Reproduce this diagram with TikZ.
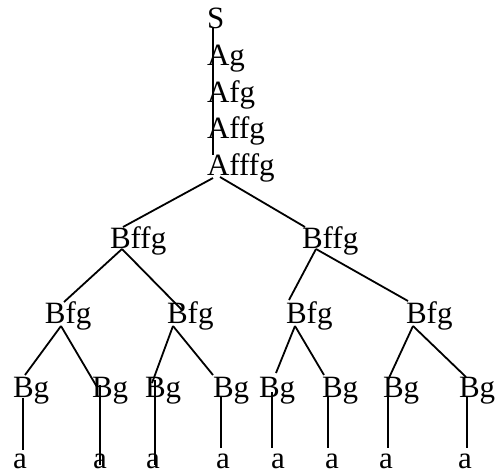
\documentclass[tikz,border=0pt]{standalone}
\usepackage{fontspec}
\setmainfont{Liberation Serif}
\begin{document}
\begin{tikzpicture}[x=1pt,y=-1pt,
  lbl/.style={inner sep=0pt,outer sep=0pt,anchor=base west,font=\fontsize{31}{37}\selectfont},
  edge/.style={draw=black,line width=1.8pt}]
\useasboundingbox[fill=white] (0,0) rectangle (496,475);
% nodes
\node[lbl] (S) at (207,28) {S};
\node[lbl] (Ag) at (207,65) {Ag};
\node[lbl] (Afg) at (207,102) {Afg};
\node[lbl] (Affg) at (207,138) {Affg};
\node[lbl] (Afffg) at (207,175) {Afffg};
\node[lbl] (B1) at (110,248) {Bffg};
\node[lbl] (B2) at (302,248) {Bffg};
\node[lbl] (C1) at (45,323) {Bfg};
\node[lbl] (C2) at (167,323) {Bfg};
\node[lbl] (C3) at (286,323) {Bfg};
\node[lbl] (C4) at (406,323) {Bfg};
\node[lbl] (D1) at (13,397) {Bg};
\node[lbl] (D2) at (92,397) {Bg};
\node[lbl] (D3) at (145,397) {Bg};
\node[lbl] (D4) at (213,397) {Bg};
\node[lbl] (D5) at (259,397) {Bg};
\node[lbl] (D6) at (322,397) {Bg};
\node[lbl] (D7) at (383,397) {Bg};
\node[lbl] (D8) at (459,397) {Bg};
\node[lbl] (E1) at (13,468) {a};
\node[lbl] (E2) at (93,468) {a};
\node[lbl] (E3) at (146,468) {a};
\node[lbl] (E4) at (216,468) {a};
\node[lbl] (E5) at (271,468) {a};
\node[lbl] (E6) at (325,468) {a};
\node[lbl] (E7) at (379,468) {a};
\node[lbl] (E8) at (458,468) {a};
% edges
\draw[edge] ([shift={(6,0)}]S.base west) -- ([shift={(6,0)}]Ag.base west);
\draw[edge] ([shift={(6,0)}]Ag.base west) -- ([shift={(6,0)}]Afg.base west);
\draw[edge] ([shift={(6,0)}]Afg.base west) -- ([shift={(6,0)}]Affg.base west);
\draw[edge] ([shift={(6,0)}]Affg.base west) -- ([shift={(6,-20)}]Afffg.base west);
\draw[edge] ([shift={(6,3)}]Afffg.base west) -- ([shift={(13,-21)}]B1.base west);
\draw[edge] ([shift={(13,2)}]Afffg.base west) -- ([shift={(3,-21)}]B2.base west);
\draw[edge] ([shift={(12,1)}]B1.base west) -- ([shift={(19,-21)}]C1.base west);
\draw[edge] ([shift={(12,1)}]B1.base west) -- ([shift={(15,-13)}]C2.base west);
\draw[edge] ([shift={(14,1)}]B2.base west) -- ([shift={(3,-23)}]C3.base west);
\draw[edge] ([shift={(14,1)}]B2.base west) -- ([shift={(2,-22)}]C4.base west);
\draw[edge] ([shift={(16,3)}]C1.base west) -- ([shift={(12,-22)}]D1.base west);
\draw[edge] ([shift={(16,3)}]C1.base west) -- ([shift={(5,-10)}]D2.base west);
\draw[edge] ([shift={(6,3)}]C2.base west) -- ([shift={(7,-14)}]D3.base west);
\draw[edge] ([shift={(6,3)}]C2.base west) -- ([shift={(0,-22)}]D4.base west);
\draw[edge] ([shift={(9,3)}]C3.base west) -- ([shift={(17,-24)}]D5.base west);
\draw[edge] ([shift={(9,3)}]C3.base west) -- ([shift={(2,-22)}]D6.base west);
\draw[edge] ([shift={(7,3)}]C4.base west) -- ([shift={(5,-17)}]D7.base west);
\draw[edge] ([shift={(7,3)}]C4.base west) -- ([shift={(7,-20)}]D8.base west);
\draw[edge] ([shift={(10,1)}]D1.base west) -- ([shift={(10,-18)}]E1.base west);
\draw[edge] ([shift={(8,-12)}]D2.base west) -- ([shift={(7,-3)}]E2.base west);
\draw[edge] ([shift={(10,-17)}]D3.base west) -- ([shift={(9,-3)}]E3.base west);
\draw[edge] ([shift={(8,0)}]D4.base west) -- ([shift={(5,-20)}]E4.base west);
\draw[edge] ([shift={(13,-5)}]D5.base west) -- ([shift={(1,-20)}]E5.base west);
\draw[edge] ([shift={(6,0)}]D6.base west) -- ([shift={(3,-20)}]E6.base west);
\draw[edge] ([shift={(5,-19)}]D7.base west) -- ([shift={(9,-20)}]E7.base west);
\draw[edge] ([shift={(8,0)}]D8.base west) -- ([shift={(9,-20)}]E8.base west);
\end{tikzpicture}
\end{document}
